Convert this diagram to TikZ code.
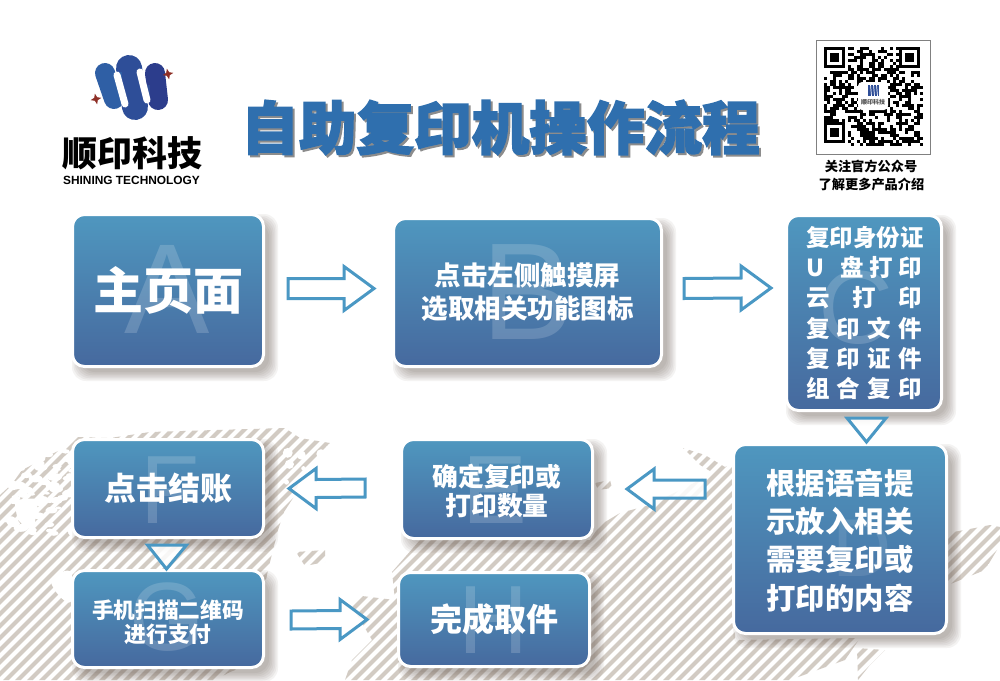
\documentclass[tikz,border=0pt]{standalone}
\usepackage{fontspec}
\usetikzlibrary{calc,shapes.geometric}
\newfontfamily\cjk{Noto Sans CJK SC}
\newfontfamily\cjkheavy[FakeBold=2.5,BoldFeatures={FakeBold=2.5}]{Noto Sans CJK SC}
\newfontfamily\latinf{Liberation Sans}
\definecolor{boxtop}{HTML}{4F97BF}
\definecolor{boxbot}{HTML}{46699E}
\definecolor{arrowblue}{HTML}{4A98C4}
\definecolor{titleblue}{HTML}{2F6FAE}
\definecolor{hatchc}{HTML}{D2CBC3}
\definecolor{shadowc}{HTML}{5A4C44}
\definecolor{logoa}{HTML}{2F5FA5}
\definecolor{logob}{HTML}{2E4E98}
\definecolor{logoc}{HTML}{2C3D8C}
\definecolor{starred}{HTML}{8E2F26}
\newcommand{\fsz}[1]{\fontsize{#1}{#1}\selectfont}
\tikzset{
  flowbox/.style={draw=white,line width=3pt,rounded corners=12pt,top color=boxtop,bottom color=boxbot,
    inner sep=0pt,text=white,align=center},
  ghost/.style={text=white,opacity=.17,inner sep=0pt,font=\latinf},
  blockarrow/.style={draw=arrowblue,line width=3pt,fill=white,fill opacity=.85,line join=miter},
  tri/.style={draw=arrowblue,line width=3pt,fill=white,fill opacity=.85,line join=miter},
  label/.style={inner sep=0pt,align=center},
  logostar/.style={star,star points=4,star point ratio=2.6,fill=starred,minimum size=11pt,inner sep=0pt,rotate=12},
}
% soft shadow under a box: x1 y1 x2 y2
\newcommand{\softshadow}[4]{%
  \foreach \s in {9,7.5,6,4.5,3,1.5,0}{%
    \fill[shadowc,opacity=.065,rounded corners=14pt]
      ({#1+7-\s},{#2+7-\s}) rectangle ({#3+7+\s},{#4+7+\s});
  }}
% box: name, x1,y1,x2,y2, font, text
\newcommand{\flow}[7]{%
  \softshadow{#2}{#3}{#4}{#5}
  \node[flowbox,minimum width={(#4-#2+3)*1pt},minimum height={(#5-#3+3)*1pt},font=\cjk\bfseries#6]
    (#1) at ({(#2+#4)/2},{(#3+#5)/2}) {#7};
}
% horizontal block arrow: tail, tip, head length (signed), half shaft, half head
\newcommand{\harrow}[5]{%
  \draw[blockarrow] ($(#1)+(0,#4)$) -- ($(#2)+(#3,#4)$) -- ($(#2)+(#3,#5)$) -- (#2)
    -- ($(#2)+(#3,-#5)$) -- ($(#2)+(#3,-#4)$) -- ($(#1)+(0,-#4)$) -- cycle;
}
\begin{document}
\begin{tikzpicture}[x=1pt,y=-1pt]
\useasboundingbox (0,0) rectangle (1000,680);
\fill[white] (0,0) rectangle (1000,680);
% ---------- hatched map background
\begin{scope}
\clip (0,495) -- (12,484) -- (22,470) -- (30,466) -- (50,455) -- (60,450) -- (75,437) -- (110,438) -- (150,432) -- (215,430) -- (285,428) -- (300,438) -- (330,443) -- (318,455) -- (312,465) -- (300,478) -- (295,495) -- (284,512) -- (278,530) -- (268,570) -- (262,600) -- (262,660) -- (230,672) -- (215,680) -- (0,680) -- cycle
 (392,572) -- (420,540) -- (590,540) -- (600,525) -- (620,513) -- (650,505) -- (680,490) -- (735,462) -- (735,640) -- (860,638) -- (845,660) -- (790,680) -- (345,680) -- (352,660) -- (372,640) -- (352,606) -- (362,596) -- (395,600) -- cycle
 (948,533) -- (975,528) -- (990,525) -- (1000,527) -- (1000,545) -- (985,570) -- (948,585) -- cycle
 (683,448) -- (705,455) -- (730,470) -- (725,480) -- (700,465) -- cycle
 (296,552) -- (325,550) -- (325,562) -- (305,566) -- cycle
 (857,648) -- (885,650) -- (870,665) -- (858,680) -- cycle
 (595,483) -- (610,480) -- (612,488) -- (598,490) -- cycle;
\foreach \i in {-700,-688,...,1000}{
  \draw[hatchc,line width=4.2pt] (\i,690) -- ({\i+700},-10);
}
\end{scope}
% white blots that break up the map's edge
\pgfmathsetseed{41}
\foreach \n in {1,...,85}{
  \pgfmathsetmacro{\bx}{rnd*75}
  \pgfmathsetmacro{\by}{448+rnd*88}
  \pgfmathsetmacro{\br}{1.5+rnd*3.5}
  \fill[white] (\bx,\by) ellipse[x radius=\br*1.5,y radius=\br*.8];
}
\foreach \n in {1,...,9}{
  \pgfmathsetmacro{\bx}{285+rnd*45}
  \pgfmathsetmacro{\by}{450+rnd*75}
  \pgfmathsetmacro{\br}{2+rnd*3}
  \fill[white] (\bx,\by) circle[radius=\br];
}
\fill[white,rounded corners=8pt] (48,578) -- (72,568) -- (72,606) -- (58,596) -- cycle;
\fill[white,rounded corners=6pt] (14,500) -- (38,498) -- (34,530) -- (18,522) -- cycle;

% ---------- logo
\draw[line cap=round,line width=20pt,color=logoa] (105,73) -- (114,99);
\draw[line cap=round,line width=26pt,color=logob] (129,68) -- (135,107);
\draw[line cap=round,line width=20pt,color=logoc] (155,73) -- (158,100);
\fill[logob] (120,85) rectangle (150,100);
\fill[logoa] (107,72) rectangle (122,92);
\draw[line cap=round,line width=7pt,white] (117,75) -- (125,104);
\draw[line cap=round,line width=7pt,white] (140,72) -- (147,100);
\node[logostar] (star1) at (168,74) {};
\node[logostar] (star2) at (96,99) {};
\node[label,font=\cjk\bfseries\fsz{35}] (brand) at (132,153) {顺印科技};
\node[label,font=\latinf\bfseries\fsz{11.9}] (brand2) at (131.5,180) {SHINING TECHNOLOGY};

% ---------- title
\node[label,font=\cjkheavy\bfseries\fsz{57.6},text=black!45] (titleshadow) at (502.5,129.5) {自助复印机操作流程};
\node[label,font=\cjkheavy\bfseries\fsz{57.6},text=titleblue] (title) at (500.5,127.5) {自助复印机操作流程};

% ---------- QR
\node[draw=black!50,line width=1pt,minimum size=114pt,inner sep=0pt,fill=white] (qr) at (873,97) {};
\pgfmathsetseed{7}
\foreach \i in {0,...,32}{
  \foreach \j in {0,...,32}{
    \pgfmathtruncatemacro{\keep}{ (rnd<0.52) ? 1 : 0 }
    \pgfmathtruncatemacro{\fnd}{ ((\i<8 && \j<8) || (\i>24 && \j<8) || (\i<8 && \j>24)) ? 1 : 0 }
    \ifnum\fnd=0 \ifnum\keep=1
      \fill[black] ({824+\i*3},{47+\j*3}) rectangle ++(3.05,3.05);
    \fi\fi
  }
}
\foreach \fx/\fy in {824/47,899/47,824/122}{
  \fill[black] (\fx,\fy) rectangle ++(21,21);
  \fill[white] ({\fx+3},{\fy+3}) rectangle ++(15,15);
  \fill[black] ({\fx+6},{\fy+6}) rectangle ++(9,9);
}
\fill[white,rounded corners=4pt] (858,82) rectangle (888,110);
\fill[logob] (868,85) rectangle (879,96);
\foreach \sx in {870.5,873.5,876.5}{\draw[white,line width=.7pt] (\sx,85) -- ({\sx+1},96);}
\node[label,font=\cjk\bfseries\fsz{6},text=black!70] (qrbrand) at (873,102) {顺印科技};
\node[label,font=\cjk\bfseries\fsz{13.2}] (qr1) at (871,166) {关注官方公众号};
\node[label,font=\cjk\bfseries\fsz{13.2}] (qr2) at (871.5,184) {了解更多产品介绍};

% ---------- boxes
\flow{A}{74}{216}{262}{365}{\fsz{50}}{主页面}
\node[ghost,font=\latinf\fsz{128}] (gA) at (167,289) {A};
\flow{B}{395}{220}{660}{365}{\fontsize{26.5}{33}\selectfont}{点击左侧触摸屏\\选取相关功能图标}
\node[ghost,font=\latinf\fsz{138}] (gB) at (528,292) {B};
\flow{C}{788}{217}{940}{409}{\fontsize{23.5}{30.2}\selectfont}{%
\hbox to 116pt{复\hfill 印\hfill 身\hfill 份\hfill 证}\\
\hbox to 116pt{U\hspace{17pt}盘\hfill 打\hfill 印}\\
\hbox to 116pt{云\hfill 打\hfill 印}\\
\hbox to 116pt{复\hfill 印\hfill 文\hfill 件}\\
\hbox to 116pt{复\hfill 印\hfill 证\hfill 件}\\
\hbox to 116pt{组\hfill 合\hfill 复\hfill 印}}
\node[ghost,font=\latinf\fsz{104}] (gC) at (856,308) {C};
\flow{D}{735}{446}{945}{632}{\fontsize{29.4}{38.3}\selectfont}{\rule{0pt}{28pt}根据语音提\\示放入相关\\需要复印或\\打印的内容}
\node[ghost,font=\latinf\fsz{82},opacity=.1] (gD) at (862,548) {D};
\flow{E}{403}{441}{591}{537}{\fontsize{25.8}{28.5}\selectfont}{\rule{0pt}{27pt}确定复印或\\打印数量}
\node[ghost,font=\latinf\fsz{97}] (gE) at (495,490) {E};
\flow{F}{74}{441}{262}{536}{\fsz{32}}{点击结账}
\node[ghost,font=\latinf\fsz{97}] (gF) at (170,490) {F};
\flow{G}{74}{572}{262}{666}{\fontsize{21.7}{24.5}\selectfont}{\rule{0pt}{25pt}手机扫描二维码\\进行支付}
\node[ghost,font=\latinf\fsz{97}] (gG) at (167,617) {G};
\flow{H}{400}{574}{588}{665}{\fsz{32}}{完成取件}
\node[ghost,font=\latinf\fsz{97}] (gH) at (494,620) {H};

% ---------- connectors
\coordinate (ab0) at ($(A.east)+(23,-2)$);
\coordinate (ab1) at ($(B.west)+(-18,-4)$);
\harrow{ab0}{ab1}{-30}{10}{22}
\coordinate (bc0) at ($(B.east)+(21,-4)$);
\coordinate (bc1) at ($(C.west)+(-14,-25)$);
\harrow{bc0}{bc1}{-30}{10}{22}
\coordinate (de0) at ($(D.west)+(-27,-50)$);
\coordinate (de1) at ($(E.east)+(33,0)$);
\harrow{de0}{de1}{27}{9}{20}
\coordinate (ef0) at ($(E.west)+(-35,-1)$);
\coordinate (ef1) at ($(F.east)+(24,0)$);
\harrow{ef0}{ef1}{27}{9}{20}
\coordinate (gh0) at ($(G.east)+(26,1)$);
\coordinate (gh1) at ($(H.west)+(-30,0)$);
\harrow{gh0}{gh1}{-27}{9}{20}
\coordinate (cdL) at ($(C.south)+(-17,6)$);
\coordinate (cdR) at ($(C.south)+(22,6)$);
\coordinate (cdT) at ($(C.south)+(2.5,30)$);
\draw[tri] (cdL) -- (cdR) -- (cdT) -- cycle;
\coordinate (fgL) at ($(F.south)+(-20.5,6)$);
\coordinate (fgR) at ($(F.south)+(18.5,6)$);
\coordinate (fgT) at ($(F.south)+(-1.5,30)$);
\draw[tri] (fgL) -- (fgR) -- (fgT) -- cycle;
\end{tikzpicture}
\end{document}
